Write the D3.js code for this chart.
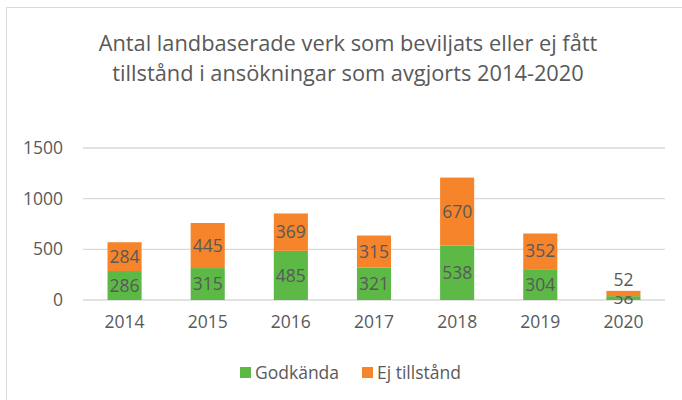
<!DOCTYPE html>
<html>
<head>
<meta charset="utf-8">
<script src="https://cdn.jsdelivr.net/npm/d3@7"></script>
<style>
  body { margin: 0; background: #fff; }
  text { font-family: "Open Sans", sans-serif; fill: #595959; }
</style>
</head>
<body>
<script>
// data
var years = ["2014", "2015", "2016", "2017", "2018", "2019", "2020"];
var godkanda = [286, 315, 485, 321, 538, 304, 38];
var ejTillstand = [284, 445, 369, 315, 670, 352, 52];
var seriesNames = ["Godkända", "Ej tillstånd"];
var yTicks = [0, 500, 1000, 1500];
var titleLines = ["Antal landbaserade verk som beviljats eller ej fått",
                  "tillstånd i ansökningar som avgjorts 2014-2020"];

var width = 682, height = 400;
var margin = {top: 148, right: 17, bottom: 100, left: 83},
    dataWidth = width - margin.left - margin.right,
    dataHeight = height - margin.top - margin.bottom;
var colors = ["#5cb946", "#f5842a"];

var svg = d3.select("body").append("svg")
  .attr("width", width)
  .attr("height", height);

// chart frame
svg.append("rect")
  .attr("x", 6.5).attr("y", 7.5)
  .attr("width", width).attr("height", height)
  .style("fill", "none")
  .style("stroke", "#d9d9d9");

// title
svg.append("g").selectAll("text")
  .data(titleLines)
  .enter().append("text")
  .attr("x", 348)
  .attr("y", (d, i) => 51 + i * 30)
  .attr("text-anchor", "middle")
  .style("font-size", "21.8px")
  .text(d => d);

var xScale = d3.scaleBand()
  .domain(years)
  .range([0, dataWidth])
  .paddingInner(0.59)
  .paddingOuter(0.295);

var yScale = d3.scaleLinear()
  .domain([0, 1500])
  .range([dataHeight, 0]);

var plot = svg.append("g")
  .attr("transform", "translate(" + margin.left + "," + margin.top + ")");

// gridlines
plot.append("g").selectAll("line")
  .data(yTicks)
  .enter().append("line")
  .attr("x1", 0).attr("x2", dataWidth)
  .attr("y1", d => yScale(d)).attr("y2", d => yScale(d))
  .style("stroke", "#d9d9d9")
  .style("stroke-width", 1.3);

// y axis labels
var yAxis = d3.axisLeft(yScale).tickValues(yTicks).tickFormat(d3.format("d")).tickSize(0).tickPadding(20);
var yg = plot.append("g").call(yAxis);
yg.select(".domain").remove();
yg.selectAll("text").style("font-size", "17.5px").style("fill", "#595959").style("font-family", "Open Sans");

// x axis labels
var xAxis = d3.axisBottom(xScale).tickSize(0).tickPadding(16);
var xg = plot.append("g").attr("transform", "translate(0," + dataHeight + ")").call(xAxis);
xg.select(".domain").remove();
xg.selectAll("text").style("font-size", "17.5px").style("fill", "#595959").style("font-family", "Open Sans");

// stacked data
var rows = years.map((y, i) => ({year: y, g: godkanda[i], e: ejTillstand[i]}));
var stacked = d3.stack().keys(["g", "e"])(rows);

var layers = plot.append("g").selectAll("g")
  .data(stacked)
  .enter().append("g")
  .style("fill", (d, i) => colors[i]);

layers.selectAll("rect")
  .data(d => d)
  .enter().append("rect")
  .attr("x", d => xScale(d.data.year))
  .attr("y", d => yScale(d[1]))
  .attr("width", xScale.bandwidth())
  .attr("height", d => yScale(d[0]) - yScale(d[1]));

// value labels, small segments get nudged like in the original
layers.each(function(layer, li) {
  d3.select(this).selectAll("text")
    .data(layer)
    .enter().append("text")
    .attr("x", d => xScale(d.data.year) + xScale.bandwidth() / 2)
    .attr("y", function(d) {
      var mid = (yScale(d[0]) + yScale(d[1])) / 2;
      var small = d.data.g + d.data.e < 200;
      if (small) mid += li === 0 ? 0 : -14;
      return mid;
    })
    .attr("dy", "0.35em")
    .attr("text-anchor", "middle")
    .style("font-size", "17.5px")
    .text(d => d[1] - d[0]);
});

// legend
var legendX = [240, 362];
var legend = svg.append("g").selectAll("g")
  .data(seriesNames)
  .enter().append("g")
  .attr("transform", (d, i) => "translate(" + legendX[i] + ",367)");
legend.append("rect")
  .attr("width", 11).attr("height", 11)
  .style("fill", (d, i) => colors[i]);
legend.append("text")
  .attr("x", 15).attr("y", 5.5)
  .attr("dy", "0.35em")
  .style("font-size", "17.5px")
  .text(d => d);
</script>
</body>
</html>
